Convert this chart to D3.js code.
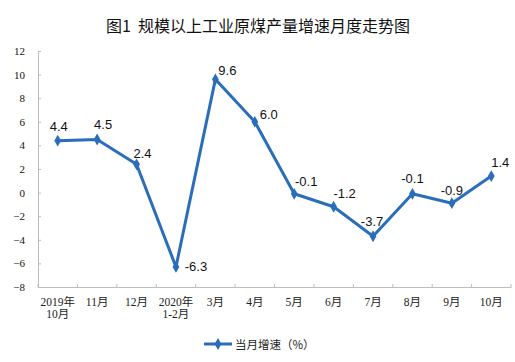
<!DOCTYPE html>
<html><head><meta charset="utf-8">
<script src="https://cdn.jsdelivr.net/npm/d3@7"></script>
<style>
html,body{margin:0;padding:0;background:#fff;}
svg{display:block;}
</style></head>
<body>
<svg id="chart" width="515" height="362"></svg>
<script>
// ---- data ----
const title = "图1  规模以上工业原煤产量增速月度走势图";
const categories = [["2019年","10月"],["11月"],["12月"],["2020年","1-2月"],["3月"],["4月"],["5月"],["6月"],["7月"],["8月"],["9月"],["10月"]];
const values = [4.4, 4.5, 2.4, -6.3, 9.6, 6.0, -0.1, -1.2, -3.7, -0.1, -0.9, 1.4];
const valueLabels = ["4.4","4.5","2.4","-6.3","9.6","6.0","-0.1","-1.2","-3.7","-0.1","-0.9","1.4"];
const yTicks = [-8,-6,-4,-2,0,2,4,6,8,10,12];
const seriesName = "当月增速（%）";

// ---- drawing ----
const color = "#2a6ebb";
const axisColor = "#bdbdbd";
const svg = d3.select("#chart");
const mLeft = 38, mRight = 511, mTop = 51, mBottom = 287;

const x = d3.scaleBand().domain(d3.range(categories.length)).range([mLeft, mRight]);
const y = d3.scaleLinear().domain([-8, 12]).range([mBottom, mTop]);

svg.append("text").attr("x", 258).attr("y", 25).attr("text-anchor", "middle")
  .attr("dominant-baseline", "central").style("white-space", "pre")
  .style("font-family", "'Noto Sans CJK SC'").style("font-size", "16px").style("font-weight", 400)
  .attr("fill", "#111").text(title);

// y axis
const yAxis = svg.append("g").attr("transform", `translate(${mLeft},0)`)
  .call(d3.axisLeft(y).tickValues(yTicks).tickSizeInner(-3).tickSizeOuter(0).tickPadding(13));
yAxis.select(".domain").attr("stroke", axisColor);
yAxis.selectAll(".tick line").attr("stroke", axisColor);
yAxis.selectAll(".tick text").style("font-family", "'Liberation Serif','Noto Sans CJK SC'")
  .style("font-size", "11px").attr("fill", "#111");

// x axis
const xAxis = svg.append("g").attr("transform", `translate(0,${mBottom})`)
  .call(d3.axisBottom(x).tickSize(0).tickFormat(""));
xAxis.select(".domain").attr("stroke", axisColor);
const bounds = d3.range(categories.length + 1).map(i => mLeft + i * x.step());
xAxis.selectAll(".bt").data(bounds).enter().append("line")
  .attr("x1", d => d).attr("x2", d => d).attr("y1", 0).attr("y2", -3).attr("stroke", axisColor);

const xl = svg.append("g");
categories.forEach((c, i) => {
  const t = xl.append("text").attr("x", x(i) + x.bandwidth() / 2).attr("y", 306)
    .attr("text-anchor", "middle")
    .style("font-family", "'Liberation Serif','Noto Sans CJK SC'").style("font-size", "11.5px").attr("fill", "#222");
  c.forEach((s, k) => t.append("tspan").attr("x", x(i) + x.bandwidth() / 2).attr("dy", k === 0 ? 0 : 12).text(s));
});

// line
const cx = i => x(i) + x.bandwidth() / 2;
svg.append("path").datum(values)
  .attr("d", d3.line().x((d, i) => cx(i)).y(d => y(d)))
  .attr("fill", "none").attr("stroke", color).attr("stroke-width", 3).attr("stroke-linejoin", "round");

const diamond = d3.symbol().type(d3.symbolDiamond).size(40);
svg.selectAll(".pt").data(values).enter().append("path")
  .attr("d", diamond).attr("transform", (d, i) => `translate(${cx(i)},${y(d)})`).attr("fill", color);

// label offsets (style)
const labelOffsets = [[1,-14],[6,-15],[6,-11],[20,0],[12,-9],[14,-7],[12,-12],[11,-13],[-1,-15],[0,-15],[0,-13],[9,-14]];
svg.selectAll(".lbl").data(values).enter().append("text")
  .attr("x", (d, i) => cx(i) + labelOffsets[i][0])
  .attr("y", (d, i) => y(d) + labelOffsets[i][1])
  .attr("text-anchor", "middle").attr("dominant-baseline", "central")
  .style("font-family", "'Liberation Sans',Arial").style("font-size", "13px").attr("fill", "#111")
  .text((d, i) => valueLabels[i]);

// legend
const lg = svg.append("g");
lg.append("line").attr("x1", 204).attr("x2", 232).attr("y1", 344).attr("y2", 344)
  .attr("stroke", color).attr("stroke-width", 3);
lg.append("path").attr("d", diamond).attr("transform", "translate(218,344)").attr("fill", color);
lg.append("text").attr("x", 235).attr("y", 344).attr("dominant-baseline", "central")
  .style("font-family", "'Noto Sans CJK SC'").style("font-size", "11.5px").attr("fill", "#222").text(seriesName);
</script>
</body></html>
